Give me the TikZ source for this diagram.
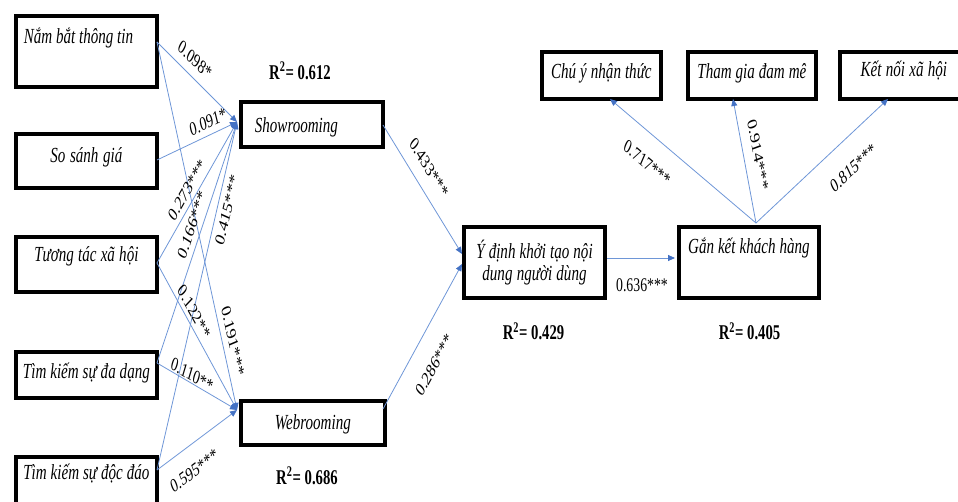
\documentclass[tikz,border=0pt]{standalone}
\usepackage{fontspec}
\setmainfont{Liberation Serif}[FakeStretch=0.7]
\newfontfamily\lblfamily{Liberation Serif}
\usetikzlibrary{arrows.meta}
\definecolor{lineblue}{RGB}{110,150,215}
\definecolor{arrowblue}{RGB}{68,114,196}
\DeclareRobustCommand{\bxfont}{\itshape\fontsize{21.5}{22}\selectfont}
\DeclareRobustCommand{\rqfont}{\bfseries\fontsize{21}{22}\selectfont\spaceskip=3.8pt\relax}
\DeclareRobustCommand{\lbfont}{\lblfamily\fontsize{13.8}{14}\selectfont}
\begin{document}
\begin{tikzpicture}[x=1pt,y=-1pt,
  box/.style={draw=black, line width=3.8pt, inner sep=0pt, font=\bxfont, anchor=north west, align=center,
    execute at begin node={\spaceskip=3.8pt plus 1pt\relax\xspaceskip=3.8pt plus 1pt\relax}},
  conn/.style={draw=lineblue, line width=0.8pt, -{Triangle[length=7pt,width=6pt,color=arrowblue]}},
  lbl/.style={font=\lbfont, inner sep=0pt, anchor=center, yscale=1.4, rotate=#1},
  rsq/.style={font=\rqfont, inner sep=0pt}]
\useasboundingbox (0,0) rectangle (958,502);
\clip (0,0) rectangle (958,502);

% boxes
\node[box, inner xsep=8pt, text width=125pt, align=left, text height=28pt, text depth=43pt] (nam) at (14,14) {Nắm bắt thông tin};
\node[box, text width=141pt, text height=29pt, text depth=25pt] (ss) at (14,132) {So sánh giá};
\node[box, text width=141pt, text height=25pt, text depth=30pt] (tt) at (14,235) {Tương tác xã hội};
\node[box, text width=141pt, text height=27pt, text depth=19pt] (dd) at (14,350) {Tìm kiếm sự đa dạng};
\node[box, text width=141pt, text height=23pt, text depth=62pt] (dq) at (14,455) {Tìm kiếm sự độc đáo};
\node[box, inner xsep=14pt, text width=114pt, align=left, text height=31pt, text depth=14pt] (show) at (239,100) {Showrooming};
\node[box, text width=144pt, text height=29pt, text depth=15pt] (web) at (239,399) {Webrooming};
\node[box, anchor=center, text width=141pt, minimum height=71pt] (yd) at (534.5,262.5) {Ý định khởi tạo nội\\dung người dùng};
\node[box, text width=140pt, text height=27pt, text depth=44pt] (gan) at (677,225) {Gắn kết khách hàng};
\node[box, text width=119pt, text height=27pt, text depth=20pt] (chuy) at (540,50) {Chú ý nhận thức};
\node[box, text width=128pt, text height=27pt, text depth=20pt] (tham) at (686,50) {Tham gia đam mê};
\node[box, text width=128pt, text height=25pt, text depth=22pt] (ket) at (838,50) {Kết nối xã hội};

% R squared
\node[rsq] (r1) at (300,71) {R\textsuperscript{2}= 0.612};
\node[rsq] (r2) at (307,476) {R\textsuperscript{2}= 0.686};
\node[rsq] (r3) at (533.5,331.5) {R\textsuperscript{2}= 0.429};
\node[rsq] (r4) at (749.5,331.5) {R\textsuperscript{2}= 0.405};

% connection points
\coordinate (namO) at (157,42);
\coordinate (ssO) at (157,160);
\coordinate (ttO) at (157,263);
\coordinate (ddO) at (157,363);
\coordinate (dqO) at (157,470);
\coordinate (showI) at (237,122);
\coordinate (webI) at (237,410);
\coordinate (showO) at (383,125);
\coordinate (webO) at (383,409);
\coordinate (ydI1) at (462,254);
\coordinate (ydI2) at (462,264);
\coordinate (ydO) at (607,258);
\coordinate (ganI) at (675,258);
\coordinate (ganO) at (756,223);
\coordinate (chuyI) at (610,99);
\coordinate (thamI) at (733,99);
\coordinate (ketI) at (888,99);

% connectors
\draw[conn] (namO) -- (showI);
\draw[conn] (ssO) -- (showI);
\draw[conn] (ttO) -- (showI);
\draw[conn] (ddO) -- (showI);
\draw[conn] (dqO) -- (showI);
\draw[conn] (namO) -- (webI);
\draw[conn] (ttO) -- (webI);
\draw[conn] (ddO) -- (webI);
\draw[conn] (dqO) -- (webI);
\draw[conn] (showO) -- (ydI1);
\draw[conn] (webO) -- (ydI2);
\draw[conn] (ydO) -- (ganI);
\draw[conn] (ganO) -- (chuyI);
\draw[conn] (ganO) -- (thamI);
\draw[conn] (ganO) -- (ketI);

% connector labels (text stretched vertically like the reference)
\begin{scope}[shift={(195,60)}]\node[lbl=-35.5] (l1) at (0,0) {0.098*};\end{scope}
\begin{scope}[shift={(208,122)}]\node[lbl=18.7] (l2) at (0,0) {0.091*};\end{scope}
\begin{scope}[shift={(187,190)}]\node[lbl=51.5] (l3) at (0,0) {0.273***};\end{scope}
\begin{scope}[shift={(192,225)}]\node[lbl=65.1] (l4) at (0,0) {0.166***};\end{scope}
\begin{scope}[shift={(227,210)}]\node[lbl=72.2] (l5) at (0,0) {0.415***};\end{scope}
\begin{scope}[shift={(233,341)}]\node[lbl=-73.1] (l6) at (0,0) {0.191***};\end{scope}
\begin{scope}[shift={(194,312)}]\node[lbl=-52.7] (l7) at (0,0) {0.122**};\end{scope}
\begin{scope}[shift={(192,375)}]\node[lbl=-22.8] (l8) at (0,0) {0.110**};\end{scope}
\begin{scope}[shift={(194,471)}]\node[lbl=28.2] (l9) at (0,0) {0.595***};\end{scope}
\begin{scope}[shift={(429,168)}]\node[lbl=-49.4] (l10) at (0,0) {0.433***};\end{scope}
\begin{scope}[shift={(434,365)}]\node[lbl=52.7] (l11) at (0,0) {0.286***};\end{scope}
\begin{scope}[shift={(642,285)}]\node[lbl=0] (l12) at (0,0) {0.636***};\end{scope}
\begin{scope}[shift={(647,163)}]\node[lbl=-31.3] (l13) at (0,0) {0.717***};\end{scope}
\begin{scope}[shift={(758,155)}]\node[lbl=-75.4] (l14) at (0,0) {0.914***};\end{scope}
\begin{scope}[shift={(853,168)}]\node[lbl=33.9] (l15) at (0,0) {0.815***};\end{scope}
\end{tikzpicture}
\end{document}
